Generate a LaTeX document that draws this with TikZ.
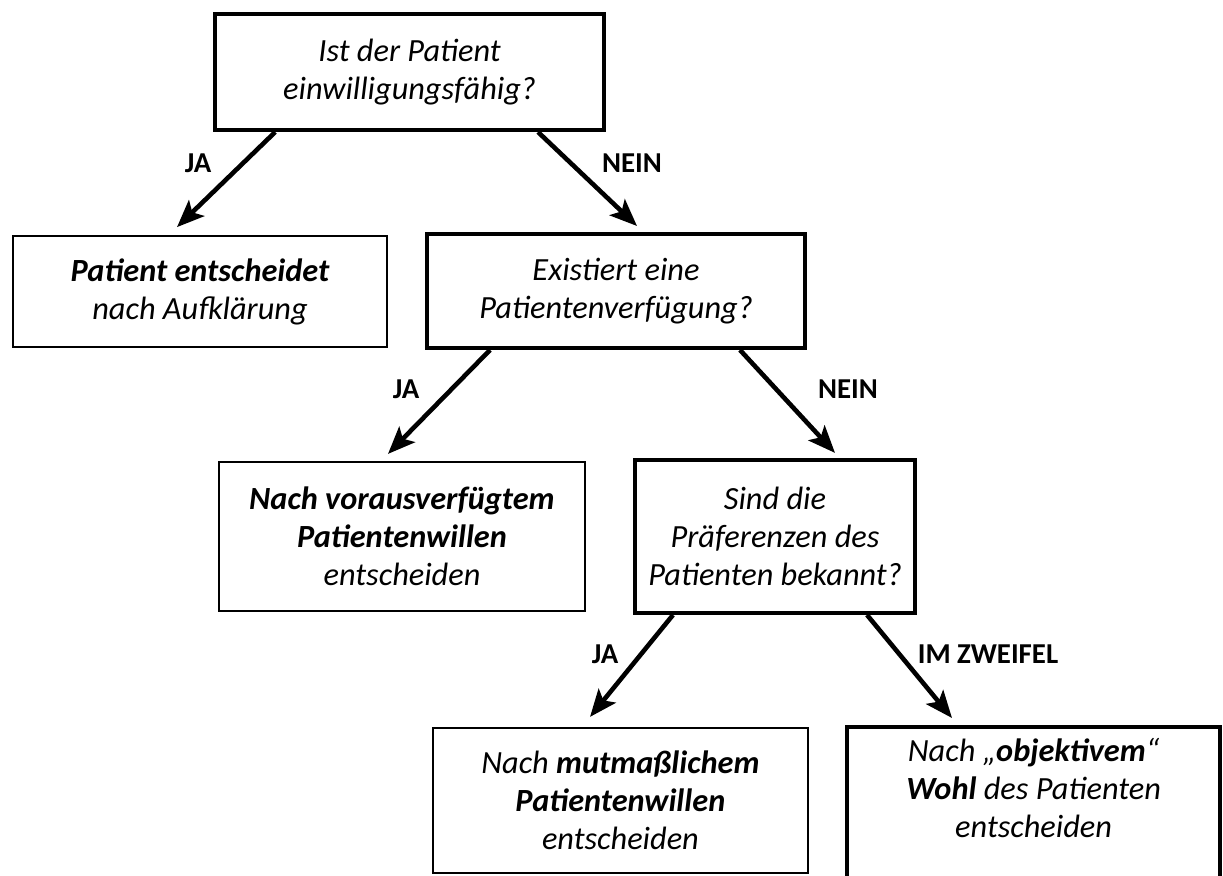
\documentclass[tikz,border=0pt]{standalone}
\usepackage{fontspec}
\setmainfont{Carlito}
\usepackage{tikz}
\usetikzlibrary{arrows.meta, calc}

\begin{document}
\begin{tikzpicture}[
    >={Stealth[length=0.68cm, width=0.55cm, inset=0.15cm]},
    frage/.style={draw, rectangle, line width=0.1cm, align=center, inner sep=0pt, font=\fontsize{23}{26.8}\selectfont\itshape},
    antwort/.style={draw, rectangle, line width=0.05cm, align=center, inner sep=0pt, font=\fontsize{23}{26.8}\selectfont\itshape},
    txt/.style={align=center, inner sep=0pt, font=\fontsize{23}{26.8}\selectfont\itshape},
    lbl/.style={inner sep=0pt, font=\fontsize{20.5}{22}\selectfont\bfseries},
    pfeil/.style={->, line width=0.115cm}
]
    \useasboundingbox (0,0) rectangle (30.575,-21.875);

    \node[frage, minimum width=9.725cm, minimum height=2.9cm] (einw) at (10.24,-1.8) {Ist der Patient\\einwilligungsfähig?};
    \node[antwort, minimum width=9.35cm, minimum height=2.775cm] (selbst) at (5.0,-7.29) {\textbf{Patient entscheidet}\\nach Aufklärung};
    \node[frage, minimum width=9.45cm, minimum height=2.85cm] (verf) at (15.4,-7.275) {Existiert eine\\Patientenverfügung?};
    \node[antwort, minimum width=9.15cm, minimum height=3.725cm] (vorab) at (10.05,-13.41) {\textbf{Nach vorausverfügtem}\\\textbf{Patientenwillen}\\entscheiden};
    \node[frage, minimum width=7.0cm, minimum height=3.825cm] (praef) at (19.375,-13.41) {Sind die\\Präferenzen des\\Patienten bekannt?};
    \node[antwort, minimum width=9.375cm, minimum height=3.625cm] (mutm) at (15.51,-20.01) {Nach \textbf{mutmaßlichem}\\\textbf{Patientenwillen}\\entscheiden};
    \node[frage, minimum width=9.325cm, minimum height=4.5cm, anchor=north] (wohl) at (25.84,-18.125) {};
    \node[txt] (wohltxt) at (25.84,-19.7) {Nach „\textbf{objektivem}“\\\textbf{Wohl} des Patienten\\entscheiden};

    % Verbindungen
    \draw[pfeil] ($(einw.south)+(-3.36,0)$) -- ($(selbst.north)+(-0.575,0.2)$);
    \draw[pfeil] ($(einw.south)+(3.21,0)$) -- ($(verf.north)+(0.525,0.15)$);
    \draw[pfeil] ($(verf.south)+(-3.15,0)$) -- ($(vorab.north)+(-0.35,0.175)$);
    \draw[pfeil] ($(verf.south)+(3.1,0)$) -- ($(praef.north)+(1.5,0.125)$);
    \draw[pfeil] ($(praef.south)+(-2.55,0)$) -- ($(mutm.north)+(-0.76,0.25)$);
    \draw[pfeil] ($(praef.south)+(2.3,0)$) -- ($(wohl.north)+(-2.04,0.175)$);

    \node[lbl] (ja1) at (4.95,-4.075) {JA};
    \node[lbl] (nein1) at (15.8,-4.075) {NEIN};
    \node[lbl] (ja2) at (10.15,-9.725) {JA};
    \node[lbl] (nein2) at (21.2,-9.725) {NEIN};
    \node[lbl] (ja3) at (15.125,-16.35) {JA};
    \node[lbl] (zweifel) at (24.7,-16.35) {IM ZWEIFEL};
\end{tikzpicture}
\end{document}
